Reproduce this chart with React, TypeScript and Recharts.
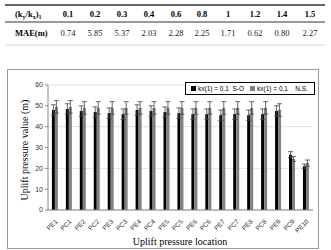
import React from "react";
import { BarChart, Bar, XAxis, YAxis, CartesianGrid, ErrorBar } from "recharts";

const ratios = ["0.1", "0.2", "0.3", "0.4", "0.6", "0.8", "1", "1.2", "1.4", "1.5"];
const maeValues = ["0.74", "5.85", "5.37", "2.03", "2.28", "2.25", "1.71", "0.62", "0.80", "2.27"];
const ratioX = [68, 95, 122, 149, 176, 202, 228, 255, 282, 310];

const locations = ["PE1", "PC1", "PE2", "PC2", "PE3", "PC3", "PE4", "PC4", "PE5", "PC5", "PE6", "PC6", "PE7", "PC7", "PE8", "PC8", "PE9", "PC9", "PE10"];
const soValues = [48, 48.5, 47.5, 47, 46.5, 46, 48, 47.5, 47, 46.5, 46, 46, 45.5, 46, 45.5, 46, 47.5, 26.5, 21];
const nsValues = [49.5, 49.5, 49, 49, 49, 49, 49, 49, 49, 49, 49, 49, 49, 49, 49, 49, 48, 24.5, 22.5];
const soErr = [2.5, 2.5, 2.5, 2.5, 2.5, 2.5, 2.5, 2.5, 2.5, 2.5, 2.5, 2.5, 2.5, 2.5, 2.5, 2.5, 2.5, 1.5, 1];
const nsErr = [3, 3, 3, 3, 3, 3, 3, 3, 3, 3, 3, 3, 3, 3, 3, 3, 3, 1.2, 1.5];
const yTicks = [0, 10, 20, 30, 40, 50, 60];
const seriesNames = ["kx(1) = 0.1  S-O", "kx(1) = 0.1    N.S."];

const data = locations.map((loc, i) => ({
  loc,
  so: soValues[i],
  ns: nsValues[i],
  soE: soErr[i],
  nsE: nsErr[i],
}));

const serif = "'Liberation Serif', 'Times New Roman', serif";
const sans = "'Liberation Sans', Arial, sans-serif";

const XTick = (props: any) => {
  const { x, y, payload } = props;
  return (
    <g transform={`translate(${x + 3},${y + 4})`}>
      <text transform="rotate(-45)" textAnchor="end" fontSize={6.5} fontFamily={sans} fill="#333">
        {payload.value}
      </text>
    </g>
  );
};

export default function App() {
  return (
    <div style={{ position: "absolute", left: 0, top: 0, width: 331, height: 250, background: "#fff", overflow: "hidden" }}>
      <svg width={331} height={55} style={{ position: "absolute", left: 0, top: 0 }}>
        <line x1={5} x2={325} y1={5} y2={5} stroke="#333" strokeWidth={1.5} />
        <line x1={5} x2={325} y1={22} y2={22} stroke="#333" strokeWidth={1} />
        <line x1={5} x2={325} y1={45} y2={45} stroke="#ccc" strokeWidth={0.8} />
        <text x={15} y={17} fontFamily={serif} fontSize={8.5} fontWeight="bold" fill="#000">
          (k<tspan fontSize={6} dy={2}>y</tspan>
          <tspan dy={-2}>/k</tspan>
          <tspan fontSize={6} dy={2}>x</tspan>
          <tspan dy={-2}>)</tspan>
          <tspan fontSize={6} dy={2}>1</tspan>
        </text>
        {ratios.map((r, i) => (
          <text key={r} x={ratioX[i]} y={17} textAnchor="middle" fontFamily={serif} fontSize={8.5} fontWeight="bold" fill="#000">
            {r}
          </text>
        ))}
        <text x={15} y={36} fontFamily={serif} fontSize={8.5} fontWeight="bold" fill="#000">
          MAE(m)
        </text>
        {maeValues.map((v, i) => (
          <text key={i} x={ratioX[i]} y={36} textAnchor="middle" fontFamily={serif} fontSize={8.5} fill="#222">
            {v}
          </text>
        ))}
      </svg>
      <div
        style={{
          position: "absolute",
          left: 7,
          top: 69,
          width: 312,
          height: 180,
          border: "1px solid #999",
          boxSizing: "border-box",
        }}
      />
      <div style={{ position: "absolute", left: 0, top: 60 }}>
        <BarChart
          width={331}
          height={190}
          data={data}
          margin={{ top: 25, right: 18, left: 28, bottom: 0 }}
          barCategoryGap="28%"
          barGap={0}
        >
          <CartesianGrid vertical={false} stroke="#d9d9d9" strokeWidth={0.8} />
          <XAxis
            dataKey="loc"
            interval={0}
            height={40}
            tick={<XTick />}
            tickLine={false}
            axisLine={{ stroke: "#888" }}
          />
          <YAxis
            domain={[0, 60]}
            ticks={yTicks}
            width={20}
            tick={{ fontSize: 7, fontFamily: sans, fill: "#333" }}
            tickLine={{ stroke: "#888" }}
            tickSize={3}
            axisLine={{ stroke: "#888" }}
          />
          <Bar dataKey="so" fill="#000" isAnimationActive={false}>
            <ErrorBar dataKey="soE" width={2.5} stroke="#444" strokeWidth={0.8} />
          </Bar>
          <Bar dataKey="ns" fill="#808080" isAnimationActive={false}>
            <ErrorBar dataKey="nsE" width={2.5} stroke="#444" strokeWidth={0.8} />
          </Bar>
        </BarChart>
      </div>
      <div
        style={{
          position: "absolute",
          left: 185,
          top: 82,
          border: "1px solid #000",
          width: 130,
          height: 13,
          display: "flex",
          alignItems: "center",
          fontFamily: sans,
          fontSize: 6.5,
          color: "#000",
          background: "#fff",
          boxSizing: "border-box",
          paddingLeft: 5,
          whiteSpace: "pre",
        }}
      >
        <span style={{ display: "inline-block", width: 5, height: 5, background: "#000", marginRight: 2 }} />
        <span style={{ marginRight: 6 }}>{seriesNames[0]}</span>
        <span style={{ display: "inline-block", width: 5, height: 5, background: "#808080", marginRight: 2 }} />
        <span>{seriesNames[1]}</span>
      </div>
      <svg width={331} height={250} style={{ position: "absolute", left: 0, top: 0, pointerEvents: "none" }}>
        <text
          transform="translate(28,150) rotate(-90)"
          textAnchor="middle"
          fontFamily={serif}
          fontSize={10}
          fill="#000"
        >
          Uplift pressure value (m)
        </text>
        <text x={180} y={245} textAnchor="middle" fontFamily={serif} fontSize={10} fill="#000">
          Uplift pressure location
        </text>
      </svg>
    </div>
  );
}
